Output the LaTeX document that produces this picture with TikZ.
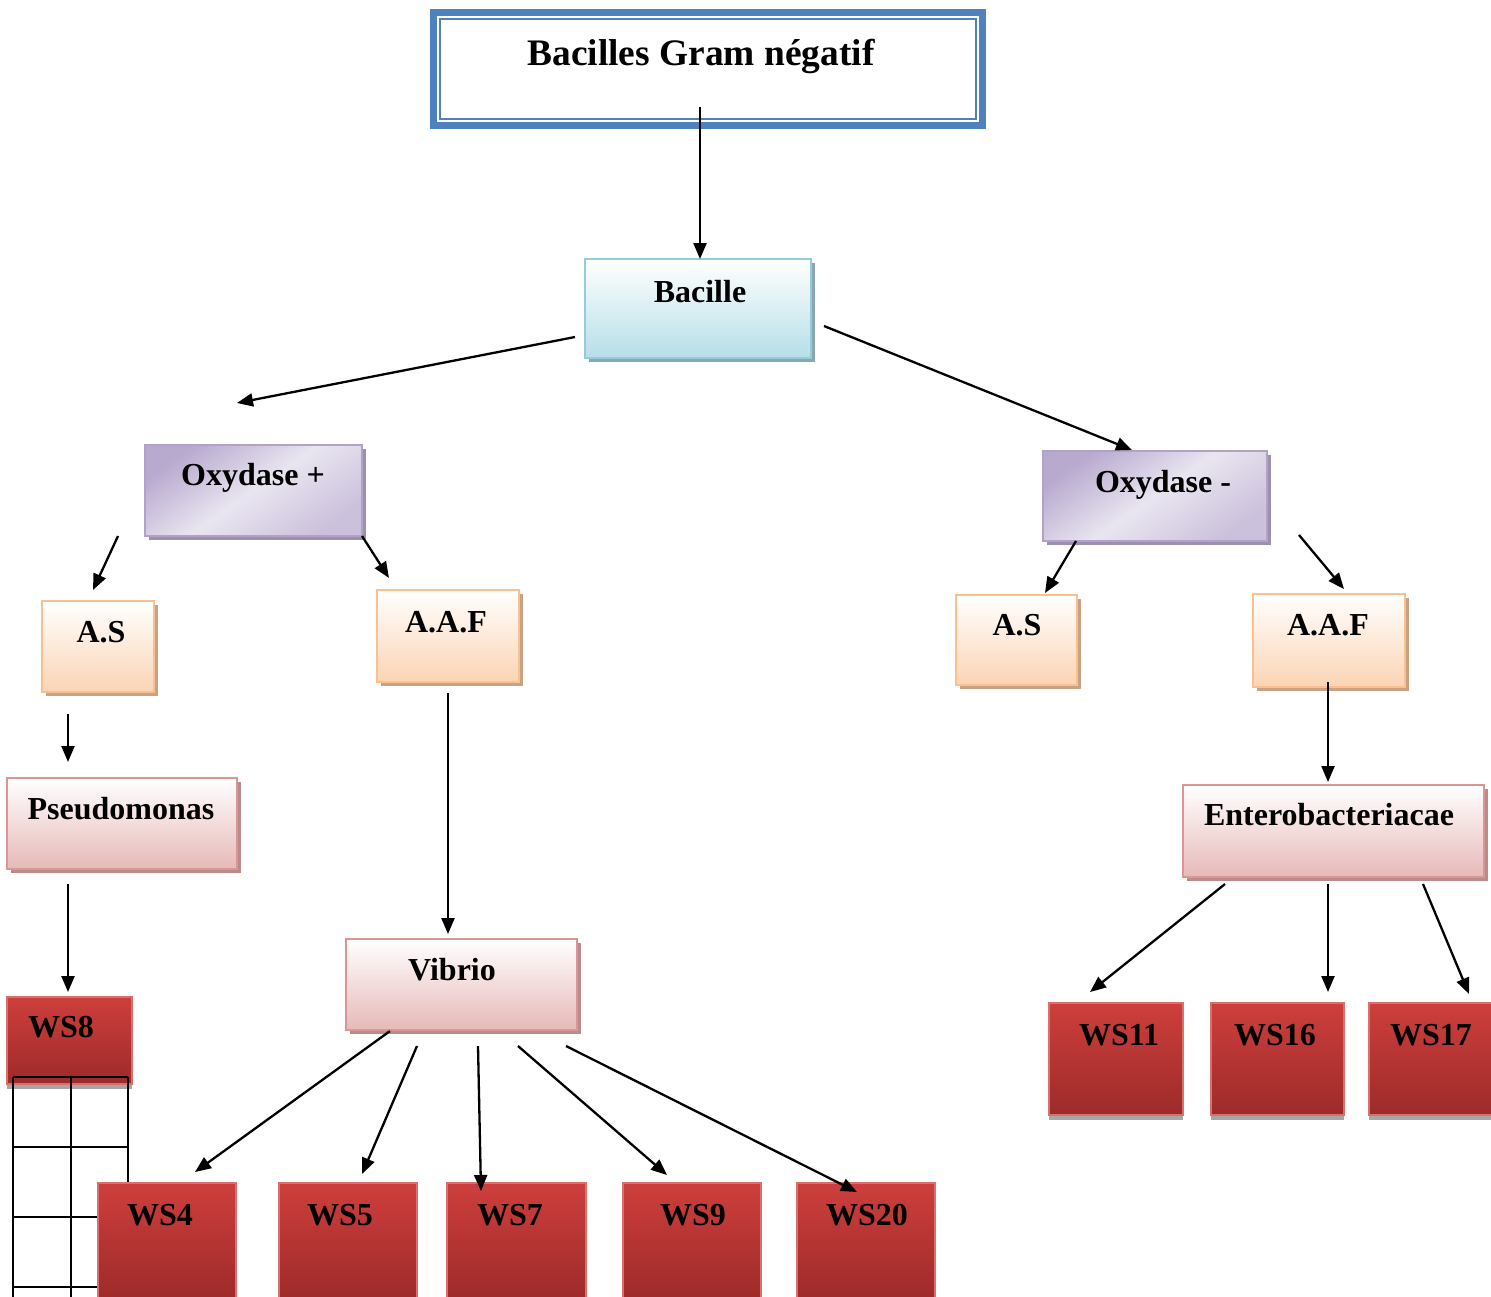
\documentclass[tikz,border=0pt]{standalone}
\usepackage{fontspec}
\setmainfont{Liberation Serif}
\usetikzlibrary{arrows.meta,shadows}
\definecolor{titleB}{HTML}{4F81BD}
\definecolor{bacB}{HTML}{93CDDD}
\definecolor{bacF}{HTML}{B6DEE8}
\definecolor{bacS}{HTML}{8AA6AE}
\definecolor{oxB}{HTML}{B2A2C7}
\definecolor{oxD}{HTML}{B8A9CF}
\definecolor{oxL}{HTML}{E9E5F0}
\definecolor{oxS}{HTML}{9D8FB0}
\definecolor{orB}{HTML}{FAC08F}
\definecolor{orF}{HTML}{FBD4B4}
\definecolor{orS}{HTML}{C8A285}
\definecolor{pkB}{HTML}{D99694}
\definecolor{pkF}{HTML}{E6B9B8}
\definecolor{pkS}{HTML}{B98B8B}
\definecolor{rdT}{HTML}{CD3F3C}
\definecolor{rdB}{HTML}{9E2A2A}
\definecolor{rdL}{HTML}{D9706B}
\definecolor{rdS}{HTML}{A6A6A6}
\begin{document}
\begin{tikzpicture}[x=0.5pt,y=-0.5pt,
  box/.style={rectangle, inner sep=0pt, outer sep=0pt, line width=1pt},
  titlebox/.style={box, draw=titleB, line width=3.5pt, fill=white},
  bluebox/.style={box, draw=bacB, top color=white, bottom color=bacF,
    general shadow={fill=bacS, shadow xshift=2pt, shadow yshift=-2pt}},
  purplebox/.style={box, draw=oxB, left color=oxD, right color=oxD!60!oxL, middle color=oxL, shading angle=35,
    general shadow={fill=oxS, shadow xshift=2pt, shadow yshift=-2pt}},
  orangebox/.style={box, draw=orB, top color=white, bottom color=orF,
    general shadow={fill=orS, shadow xshift=2pt, shadow yshift=-2pt}},
  pinkbox/.style={box, draw=pkB, top color=white, bottom color=pkF,
    general shadow={fill=pkS, shadow xshift=2pt, shadow yshift=-2pt}},
  redbox/.style={box, draw=rdL, line width=0.6pt, top color=rdT, bottom color=rdB,
    general shadow={fill=rdS, shadow xshift=0pt, shadow yshift=-2.5pt}},
  lbl/.style={font=\fontsize{16}{19}\selectfont\bfseries, inner sep=0pt, anchor=base},
  arr/.style={line width=1.15pt, -{Triangle[length=8pt,width=6.5pt]}},
  gridline/.style={line width=1.2pt}
]
\useasboundingbox (0,0) rectangle (1491,1296);

% title
\node[titlebox, minimum width=274.5pt, minimum height=56.5pt] (title) at (708,69) {};
\draw[titleB, line width=1pt] ([shift={(3.25pt,-3.25pt)}]title.north west) rectangle ([shift={(-3.25pt,3.25pt)}]title.south east);
\node[lbl, font=\fontsize{18.7}{22}\selectfont\bfseries] (title-t) at (701,65) {Bacilles Gram négatif};

% level boxes
\node[bluebox, minimum width=113pt, minimum height=49.5pt] (bac) at (698,308.5) {};
\node[lbl] (bac-t) at (700,302) {Bacille};

\node[purplebox, minimum width=108.5pt, minimum height=45.5pt] (oxp) at (253.5,490.5) {};
\node[lbl] (oxp-t) at (253,485) {Oxydase +};
\node[purplebox, minimum width=112pt, minimum height=45pt] (oxm) at (1155,496) {};
\node[lbl] (oxm-t) at (1163,492) {Oxydase -};

\node[orangebox, minimum width=56pt, minimum height=45.5pt] (asl) at (98,646.5) {};
\node[lbl] (asl-t) at (101,642) {A.S};
\node[orangebox, minimum width=71pt, minimum height=46pt] (aafl) at (448,636) {};
\node[lbl] (aafl-t) at (446,632) {A.A.F};
\node[orangebox, minimum width=60.5pt, minimum height=45pt] (asr) at (1016.5,640) {};
\node[lbl] (asr-t) at (1017,635) {A.S};
\node[orangebox, minimum width=76pt, minimum height=46.5pt] (aafr) at (1329,640.5) {};
\node[lbl] (aafr-t) at (1328,635) {A.A.F};

\node[pinkbox, minimum width=115pt, minimum height=45.5pt] (pse) at (122,823.5) {};
\node[lbl] (pse-t) at (121,819) {Pseudomonas};
\node[pinkbox, minimum width=115.5pt, minimum height=45.5pt] (vib) at (461.5,984.5) {};
\node[lbl] (vib-t) at (452,980) {Vibrio};
\node[pinkbox, minimum width=150.5pt, minimum height=46pt] (ent) at (1333.5,831) {};
\node[lbl] (ent-t) at (1329,825) {Enterobacteriacae};

% WS8 and grid
\node[redbox, minimum width=62.5pt, minimum height=43.5pt] (ws8) at (69.5,1040.5) {};
\node[lbl] (ws8-t) at (61,1037) {WS8};
\foreach \gx in {13,71,128} \draw[gridline] (\gx,1077) -- (\gx,1300);
\foreach \gy in {1077,1147,1217,1287} \draw[gridline] (13,\gy) -- (128,\gy);

% bottom WS boxes
\node[redbox, minimum width=69pt, minimum height=58.5pt] (ws4) at (167,1241.5) {};
\node[lbl] (ws4-t) at (160,1225) {WS4};
\node[redbox, minimum width=69pt, minimum height=58.5pt] (ws5) at (348,1241.5) {};
\node[lbl] (ws5-t) at (340,1225) {WS5};
\node[redbox, minimum width=69.5pt, minimum height=58.5pt] (ws7) at (516.5,1241.5) {};
\node[lbl] (ws7-t) at (510,1225) {WS7};
\node[redbox, minimum width=69pt, minimum height=58.5pt] (ws9) at (692,1241.5) {};
\node[lbl] (ws9-t) at (693,1225) {WS9};
\node[redbox, minimum width=69pt, minimum height=58.5pt] (ws20) at (866,1241.5) {};
\node[lbl] (ws20-t) at (867,1225) {WS20};

\node[redbox, minimum width=67pt, minimum height=56pt] (ws11) at (1116,1059) {};
\node[lbl] (ws11-t) at (1119,1045) {WS11};
\node[redbox, minimum width=66.5pt, minimum height=56pt] (ws16) at (1277.5,1059) {};
\node[lbl] (ws16-t) at (1275,1045) {WS16};
\node[redbox, minimum width=63pt, minimum height=56pt] (ws17) at (1432,1059) {};
\node[lbl] (ws17-t) at (1431,1045) {WS17};

% connector end points
\coordinate (c1s) at (700,107);  \coordinate (c1e) at (700,259);
\coordinate (c2s) at (575,337);  \coordinate (c2e) at (237,403);
\coordinate (c3s) at (824,326);  \coordinate (c3e) at (1132,450);
\coordinate (c4s) at (118,536);  \coordinate (c4e) at (93,590);
\coordinate (c5s) at (362,536);  \coordinate (c5e) at (389,578);
\coordinate (c6s) at (68,714);   \coordinate (c6e) at (68,762);
\coordinate (c7s) at (68,884);   \coordinate (c7e) at (68,992);
\coordinate (c8s) at (448,693);  \coordinate (c8e) at (448,934);
\coordinate (c9s) at (1076,541); \coordinate (c9e) at (1045,593);
\coordinate (c10s) at (1299,535); \coordinate (c10e) at (1344,589);
\coordinate (c11s) at (1328,682); \coordinate (c11e) at (1328,782);
\coordinate (c12s) at (1225,884); \coordinate (c12e) at (1090,992);
\coordinate (c13s) at (1328,884); \coordinate (c13e) at (1328,992);
\coordinate (c14s) at (1423,884); \coordinate (c14e) at (1469,994);
\coordinate (c15s) at (390,1031); \coordinate (c15e) at (195,1172);
\coordinate (c16s) at (417,1046); \coordinate (c16e) at (362,1174);
\coordinate (c17s) at (478,1046); \coordinate (c17e) at (481,1191);
\coordinate (c18s) at (518,1046); \coordinate (c18e) at (667,1175);
\coordinate (c19s) at (566,1046); \coordinate (c19e) at (857,1192);

\foreach \i in {1,...,19} \draw[arr] (c\i s) -- (c\i e);
\end{tikzpicture}
\end{document}
